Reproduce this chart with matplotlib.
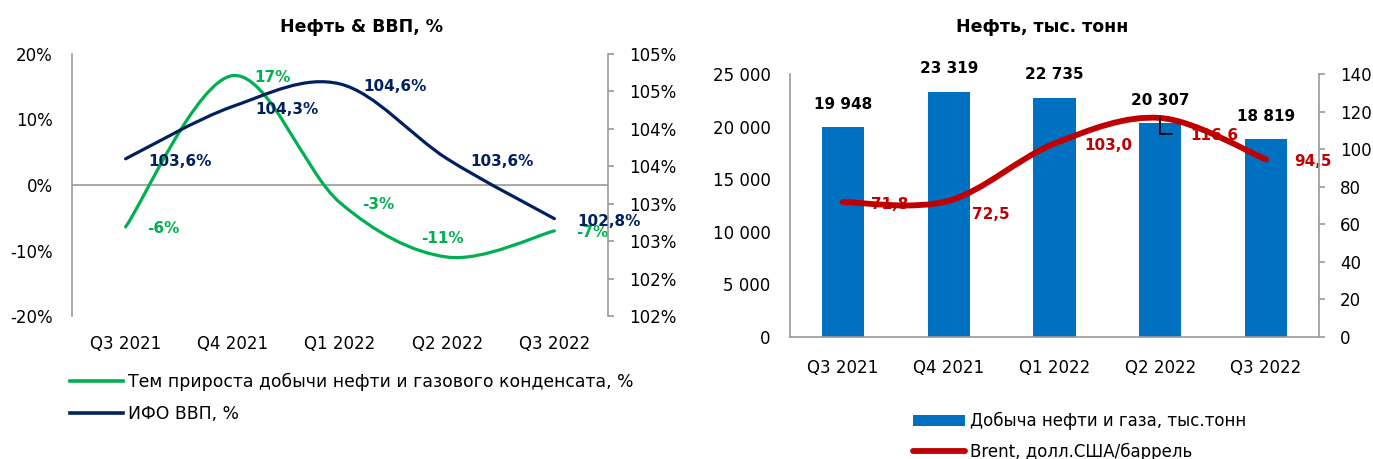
import math
import numpy as np
import matplotlib
matplotlib.use("Agg")
import matplotlib.pyplot as plt
from matplotlib.path import Path
from matplotlib.patches import PathPatch, Patch
from matplotlib.lines import Line2D
from matplotlib.ticker import FixedLocator, FuncFormatter

plt.rcParams['font.family'] = ['DejaVu Sans']

# ---------------- data ----------------
quarters = ["Q3 2021", "Q4 2021", "Q1 2022", "Q2 2022", "Q3 2022"]
oil_growth = [-6.4, 16.7, -2.7, -11.0, -7.0]          # % (left axis, left chart)
oil_growth_labels = ["-6%", "17%", "-3%", "-11%", "-7%"]
gdp_index = [103.6, 104.3, 104.6, 103.6, 102.8]        # % (right axis, left chart)
production = [19948, 23319, 22735, 20307, 18819]        # тыс. тонн
brent = [71.8, 72.5, 103.0, 116.6, 94.5]                # долл.США/баррель

left_ticks = [-20, -10, 0, 10, 20]
gdp_ticks = [101.5, 102.0, 102.5, 103.0, 103.5, 104.0, 104.5, 105.0]
prod_ticks = [0, 5000, 10000, 15000, 20000, 25000]
brent_ticks = [0, 20, 40, 60, 80, 100, 120, 140]

GREEN = "#00B050"
NAVY = "#002060"
BLUE = "#0070C0"
RED = "#C00000"
SPINE = "#9A9A9A"

W, H = 1373, 459
fig = plt.figure(figsize=(W / 100, H / 100), dpi=100)
fig.patch.set_facecolor("white")


def smooth_path(xs, ys):
    pts = np.column_stack([xs, ys]).astype(float)
    n = len(pts)
    verts = [pts[0]]
    codes = [Path.MOVETO]
    for i in range(n - 1):
        p0 = pts[i - 1] if i > 0 else pts[i]
        p1 = pts[i]
        p2 = pts[i + 1]
        p3 = pts[i + 2] if i + 2 < n else pts[i + 1]
        c1 = p1 + (p2 - p0) / 6.0
        c2 = p2 - (p3 - p1) / 6.0
        verts += [c1, c2, p2]
        codes += [Path.CURVE4] * 3
    return Path(verts, codes)


def space_thousands(v):
    return f"{int(round(v)):,}".replace(",", " ")


def round_half_up(v):
    return int(math.floor(v + 0.5))


x = np.arange(len(quarters))
TICK_FS = 12
LBL_FS = 11

# ================= LEFT CHART =================
ax1 = fig.add_axes([72 / W, 1 - 316 / H, 536 / W, 262 / H])
ax1r = ax1.twinx()
ax1.set_xlim(-0.5, len(quarters) - 0.5)
ax1.set_ylim(-20, 20)
ax1r.set_ylim(101.5, 105)

for a in (ax1, ax1r):
    for s in a.spines.values():
        s.set_visible(False)
ax1.spines['left'].set_visible(True)
ax1.spines['left'].set_color(SPINE)
ax1.spines['left'].set_linewidth(1.2)
ax1r.spines['right'].set_visible(True)
ax1r.spines['right'].set_color(SPINE)
ax1r.spines['right'].set_linewidth(1.2)

ax1.axhline(0, color=SPINE, lw=1.2, zorder=1)

ax1.yaxis.set_major_locator(FixedLocator(left_ticks))
ax1.yaxis.set_major_formatter(FuncFormatter(lambda v, p: f"{int(v)}%"))
ax1.tick_params(axis='y', length=0, pad=14, labelsize=TICK_FS)
ax1.set_xticks(x)
ax1.set_xticklabels(quarters)
ax1.tick_params(axis='x', length=0, pad=14, labelsize=TICK_FS)

ax1r.yaxis.set_major_locator(FixedLocator(gdp_ticks))
ax1r.yaxis.set_major_formatter(FuncFormatter(lambda v, p: f"{round_half_up(v)}%"))
ax1r.tick_params(axis='y', length=4, width=1.2, color=SPINE, pad=11, labelsize=TICK_FS, direction='out')

ax1.add_patch(PathPatch(smooth_path(x, oil_growth), fill=False, edgecolor=GREEN, lw=2.3,
                        capstyle='round', joinstyle='round', zorder=3))
ax1r.add_patch(PathPatch(smooth_path(x, gdp_index), fill=False, edgecolor=NAVY, lw=2.3,
                         capstyle='round', joinstyle='round', zorder=3))

for i, (v, t) in enumerate(zip(oil_growth, oil_growth_labels)):
    if i == 3:
        ax1.annotate(t, (x[i], v), xytext=(-5, 19), textcoords='offset pixels',
                     ha='center', va='center', color=GREEN, fontsize=LBL_FS, fontweight='bold')
    else:
        ax1.annotate(t, (x[i], v), xytext=(22, -2), textcoords='offset pixels',
                     ha='left', va='center', color=GREEN, fontsize=LBL_FS, fontweight='bold')

for i, v in enumerate(gdp_index):
    ax1r.annotate(f"{v:.1f}%".replace(".", ","), (x[i], v), xytext=(23, -3),
                  textcoords='offset pixels', ha='left', va='center', color=NAVY,
                  fontsize=LBL_FS, fontweight='bold', zorder=5)

fig.text(361 / W, 1 - 27 / H, "Нефть & ВВП, %", ha='center', va='center',
         fontsize=12.5, fontweight='bold')

leg1 = fig.legend(
    handles=[Line2D([], [], color=GREEN, lw=2.6),
             Line2D([], [], color=NAVY, lw=2.6)],
    labels=["Тем прироста добычи нефти и газового конденсата, %", "ИФО ВВП, %"],
    loc='upper left', bbox_to_anchor=(70 / W, 1 - 373 / H), frameon=False,
    borderpad=0, borderaxespad=0, handlelength=3.1, handletextpad=0.25,
    labelspacing=0.8, fontsize=12.4)

# ================= RIGHT CHART =================
ax2 = fig.add_axes([790 / W, 1 - 337 / H, 529 / W, 263 / H])
ax2r = ax2.twinx()
ax2.set_xlim(-0.5, len(quarters) - 0.5)
ax2.set_ylim(0, 25000)
ax2r.set_ylim(0, 140)

for a in (ax2, ax2r):
    for s in a.spines.values():
        s.set_visible(False)
for a, side in ((ax2, 'left'), (ax2, 'bottom'), (ax2r, 'right')):
    a.spines[side].set_visible(True)
    a.spines[side].set_color(SPINE)
    a.spines[side].set_linewidth(1.2)

ax2.bar(x, production, width=0.4, color=BLUE, zorder=2)
for i, v in enumerate(production):
    ax2.annotate(space_thousands(v), (x[i], v), xytext=(0, 23), textcoords='offset pixels',
                 ha='center', va='center', fontsize=LBL_FS, fontweight='bold', color='black')

ax2.yaxis.set_major_locator(FixedLocator(prod_ticks))
ax2.yaxis.set_major_formatter(FuncFormatter(lambda v, p: space_thousands(v)))
ax2.tick_params(axis='y', length=0, pad=14, labelsize=TICK_FS)
ax2.set_xticks(x)
ax2.set_xticklabels(quarters)
ax2.tick_params(axis='x', length=0, pad=16, labelsize=TICK_FS)

ax2r.yaxis.set_major_locator(FixedLocator(brent_ticks))
ax2r.yaxis.set_major_formatter(FuncFormatter(lambda v, p: f"{int(v)}"))
ax2r.tick_params(axis='y', length=4, width=1.2, color=SPINE, pad=11, labelsize=TICK_FS, direction='out')

ax2r.add_patch(PathPatch(smooth_path(x, brent), fill=False, edgecolor=RED, lw=4.2,
                         capstyle='round', joinstyle='round', zorder=3))

brent_offsets = [(28, -2), (23, -14), (30, -2), (30, -18), (28, -2)]
for i, v in enumerate(brent):
    ax2r.annotate(f"{v:.1f}".replace(".", ","), (x[i], v), xytext=brent_offsets[i],
                  textcoords='offset pixels', ha='left', va='center', color=RED,
                  fontsize=LBL_FS, fontweight='bold', zorder=2)

# small leader line near the Q2 2022 label
ax2r.annotate('', xy=(x[3], brent[3]), xytext=(12, -16), textcoords='offset pixels',
              arrowprops=dict(arrowstyle='-', color='black', lw=1.3, shrinkA=0, shrinkB=0,
                              connectionstyle='angle,angleA=0,angleB=90,rad=0'), zorder=6)

fig.text(1042 / W, 1 - 27 / H, "Нефть, тыс. тонн", ha='center', va='center',
         fontsize=12.5, fontweight='bold')

leg2 = fig.legend(
    handles=[Patch(facecolor=BLUE, edgecolor='none'),
             Line2D([], [], color=RED, lw=4.2, solid_capstyle='round')],
    labels=["Добыча нефти и газа, тыс.тонн", "Brent, долл.США/баррель"],
    loc='upper left', bbox_to_anchor=(913 / W, 1 - 412 / H), frameon=False,
    borderpad=0, borderaxespad=0, handlelength=3.1, handletextpad=0.3,
    labelspacing=0.75, fontsize=TICK_FS)

fig.savefig("out.png", dpi=100, facecolor="white")
